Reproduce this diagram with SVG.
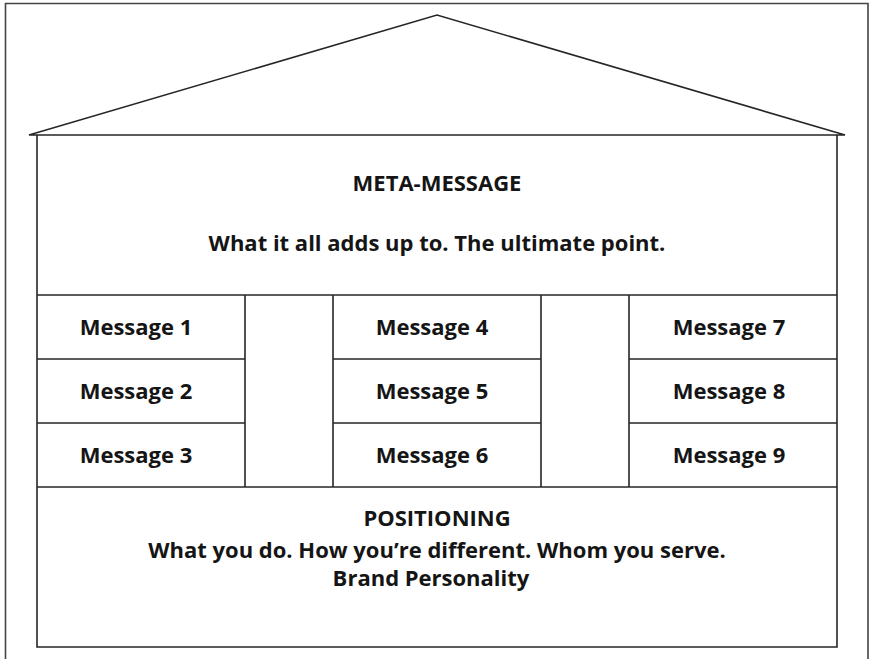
<svg xmlns="http://www.w3.org/2000/svg" width="870" height="659" viewBox="0 0 870 659">
<style>
.ln{stroke:#262626;stroke-width:1.6;fill:none}
.fr{stroke:#444;stroke-width:1.6;fill:none}
text{font-family:"Open Sans","Noto Sans",sans-serif;font-weight:bold;font-size:22px;fill:#151515;text-anchor:middle}
</style>
<rect width="870" height="659" fill="#fff"/>
<g id="frame"><path class="fr" d="M5.5,659 V3.5 H868 V659"/></g>
<g id="roof"><path class="ln" d="M29,135 L437,15 L845,135 Z"/></g>
<g id="house"><path class="ln" d="M37,135 V647 H837 V135"/></g>
<g id="meta-message">
<path class="ln" d="M37,295 H837"/>
<text x="437" y="191">META-MESSAGE</text>
<text x="437" y="251">What it all adds up to. The ultimate point.</text>
</g>
<g id="pillars">
<path class="ln" d="M245,295 V487 M333,295 V487 M541,295 V487 M629,295 V487"/>
<path class="ln" d="M37,359 H245 M37,423 H245 M333,359 H541 M333,423 H541 M629,359 H837 M629,423 H837"/>
</g>
<g id="message-1"><text x="136" y="335">Message 1</text></g>
<g id="message-2"><text x="136" y="399">Message 2</text></g>
<g id="message-3"><text x="136" y="463">Message 3</text></g>
<g id="message-4"><text x="432" y="335">Message 4</text></g>
<g id="message-5"><text x="432" y="399">Message 5</text></g>
<g id="message-6"><text x="432" y="463">Message 6</text></g>
<g id="message-7"><text x="729" y="335">Message 7</text></g>
<g id="message-8"><text x="729" y="399">Message 8</text></g>
<g id="message-9"><text x="729" y="463">Message 9</text></g>
<g id="positioning">
<path class="ln" d="M37,487 H837"/>
<text x="437" y="526">POSITIONING</text>
<text x="437" y="558">What you do. How you’re different. Whom you serve.</text>
<text x="431" y="586">Brand Personality</text>
</g>
<g id="connectors"></g>
</svg>
